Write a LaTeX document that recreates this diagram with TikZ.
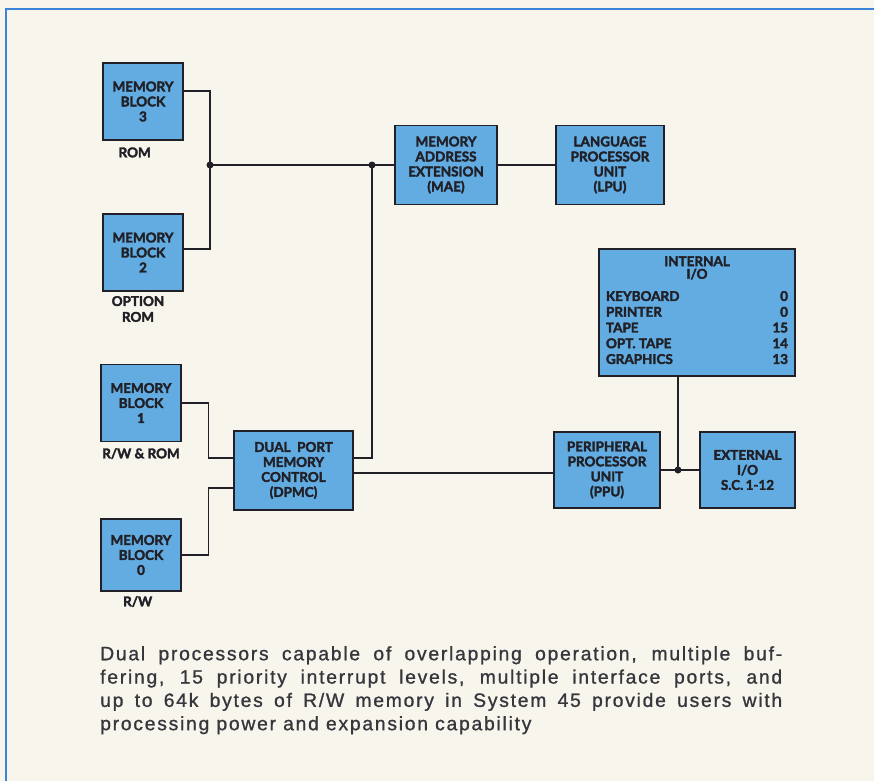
\documentclass[tikz,border=0pt]{standalone}
\usepackage{fontspec}
\setmainfont{Liberation Sans}
\newfontfamily\boxfont[BoldFeatures={FakeBold=2.5}]{Lato}
\usetikzlibrary{positioning}
\definecolor{blockblue}{RGB}{98,172,226}
\definecolor{paper}{RGB}{248,245,237}
\definecolor{frameblue}{RGB}{60,132,218}
\definecolor{ink}{RGB}{32,32,38}

\begin{document}
\begin{tikzpicture}[x=0.03cm, y=-0.03cm, every node/.style={font=\boxfont\bfseries\fontsize{11.5}{12.8}\selectfont, text=ink}]
\tikzset{blk/.style={draw=ink, line width=1.2pt, fill=blockblue, align=center, inner sep=1pt}}
\tikzset{memblk/.style={blk, minimum width=2.4cm, minimum height=2.3cm}}
\tikzset{tag/.style={font=\boxfont\bfseries\fontsize{11.5}{13.5}\selectfont, align=center, inner sep=0pt}}
\tikzset{wire/.style={draw=ink, line width=1.3pt}}
\tikzset{dot/.style={circle, fill=ink, inner sep=0pt, minimum size=0.21cm}}
\useasboundingbox (0,0) rectangle (874,781);
\fill[paper] (0,0) rectangle (874,781);
\draw[frameblue, line width=2pt] (6,781) -- (6,9) -- (874,9);
\node[memblk] (mb3) at (143,101.5) {MEMORY\\BLOCK\\3};
\node[memblk] (mb2) at (143,252.5) {MEMORY\\BLOCK\\2};
\node[memblk] (mb1) at (141,403) {MEMORY\\BLOCK\\1};
\node[memblk, minimum height=2.16cm] (mb0) at (141,555) {MEMORY\\BLOCK\\0};
\node[tag, below=0.2cm of mb3, xshift=-0.25cm] {ROM};
\node[tag, below=0.13cm of mb2, xshift=-0.15cm] {OPTION\\ROM};
\node[tag, below=0.18cm of mb1] {R/W \& ROM};
\node[tag, below=0.13cm of mb0, xshift=-0.1cm] {R/W};
\node[blk, minimum width=3.57cm, minimum height=2.37cm] (dpmc) at (293.5,470.5) {DUAL\ \ PORT\\MEMORY\\CONTROL\\(DPMC)};
\node[blk, minimum width=3.06cm, minimum height=2.37cm] (mae) at (446,165) {MEMORY\\ADDRESS\\EXTENSION\\(MAE)};
\node[blk, minimum width=3.24cm, minimum height=2.37cm] (lpu) at (610,165) {LANGUAGE\\PROCESSOR\\UNIT\\(LPU)};
\node[blk, minimum width=5.88cm, minimum height=3.81cm] (iio) at (697,312.5) {INTERNAL\\[-2pt]I/O\\[8pt]\renewcommand{\arraystretch}{1.05}\begin{tabular*}{5.46cm}{@{}l@{\extracolsep{\fill}}r@{}}KEYBOARD&0\\PRINTER&0\\TAPE&15\\OPT. TAPE&14\\GRAPHICS&13\end{tabular*}};
\node[blk, minimum width=3.18cm, minimum height=2.28cm] (ppu) at (607,470) {PERIPHERAL\\PROCESSOR\\UNIT\\(PPU)};
\node[blk, minimum width=2.85cm, minimum height=2.28cm] (eio) at (747.5,470) {EXTERNAL\\I/O\\S.C.\,1-12};
\coordinate (jrom) at (210,165);
\coordinate (jmae) at (372,165);
\coordinate (jio) at (678,470);
\draw[wire] ([yshift=0.32cm]mb3.east) -| (jrom) |- ([yshift=0.1cm]mb2.east);
\draw[wire] (jrom) -- (mae.west);
\draw[wire] ([yshift=0.375cm]dpmc.east) -| (jmae);
\draw[wire] (mae.east) -- (lpu.west);
\draw[wire] (mb1.east) -- ++(27,0) |- ([yshift=0.375cm]dpmc.west);
\draw[wire] (mb0.east) -- ++(27,0) |- ([yshift=-0.525cm]dpmc.west);
\draw[wire] ([yshift=-0.075cm]dpmc.east) -- ([yshift=-0.075cm]dpmc.east -| ppu.west);
\draw[wire] (ppu.east) -- (eio.west);
\draw[wire] (jio) -- (iio.south -| jio);
\node[dot] at (jrom) {};
\node[dot] at (jmae) {};
\node[dot] at (jio) {};
\node[font=\addfontfeature{LetterSpace=9,FakeBold=1}\fontsize{16.5}{19.9}\selectfont, text=ink!90, text width=20.46cm, align=justify, anchor=north west, inner sep=0pt] (caption) at (100,646) {Dual processors capable of overlapping operation, multiple buf-\linebreak fering, 15 priority interrupt levels, multiple interface ports, and\linebreak up to 64k bytes of R/W memory in System 45 provide users with\linebreak processing power and expansion capability};
\end{tikzpicture}
\end{document}
